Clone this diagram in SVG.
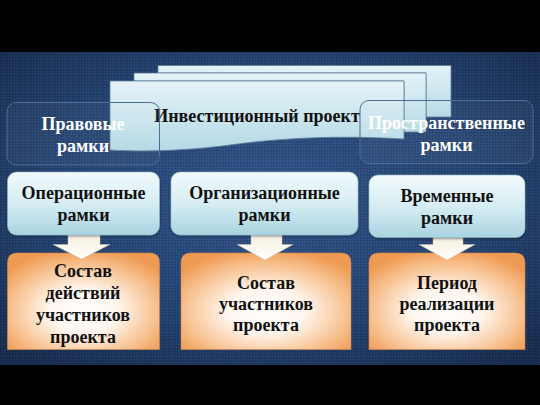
<svg xmlns="http://www.w3.org/2000/svg" width="540" height="405" viewBox="0 0 540 405">
<defs>
<radialGradient id="bg" cx="50%" cy="45%" r="70%">
<stop offset="0" stop-color="#32568c"/>
<stop offset="0.6" stop-color="#244372"/>
<stop offset="1" stop-color="#172d50"/>
</radialGradient>
<pattern id="dots" width="3" height="3" patternUnits="userSpaceOnUse">
<rect x="0" y="0" width="1.5" height="1.5" fill="#000" opacity="0.15"/>
<rect x="1.5" y="1.5" width="1.5" height="1.5" fill="#fff" opacity="0.04"/>
</pattern>
<linearGradient id="doc" x1="0" y1="0" x2="0" y2="1">
<stop offset="0" stop-color="#e4f3f8"/>
<stop offset="1" stop-color="#b4d9e5"/>
</linearGradient>
<linearGradient id="blue" x1="0" y1="0" x2="0" y2="1">
<stop offset="0" stop-color="#f2fafc"/>
<stop offset="0.5" stop-color="#d6edf3"/>
<stop offset="1" stop-color="#a9d3e0"/>
</linearGradient>
<radialGradient id="orange" cx="50%" cy="60%" r="65%">
<stop offset="0" stop-color="#ffffff"/>
<stop offset="0.35" stop-color="#fff6ee"/>
<stop offset="0.75" stop-color="#f7bf8c"/>
<stop offset="1" stop-color="#ef9a52"/>
</radialGradient>
<linearGradient id="arrow" x1="0" y1="0" x2="0" y2="1">
<stop offset="0" stop-color="#f4ecd8"/>
<stop offset="1" stop-color="#ffffff"/>
</linearGradient>
<filter id="sh" x="-10%" y="-10%" width="120%" height="130%">
<feDropShadow dx="0" dy="1" stdDeviation="1.2" flood-color="#000" flood-opacity="0.45"/>
</filter>
</defs>
<style>
.t{font-family:"Liberation Serif","DejaVu Serif","Times New Roman",serif;font-weight:700;font-size:18px;text-anchor:middle}
.dk{fill:#111}
.wh{fill:#ffffff}
.sheet{fill:url(#doc);stroke:#5f7c9c;stroke-width:0.8}
.frame{fill:#ffffff;fill-opacity:0.04;stroke:#4d6d94;stroke-width:1}
.bbox{fill:url(#blue);stroke:#8fb8c8;stroke-width:0.6}
.obox{fill:url(#orange);stroke:#d78a4c;stroke-width:0.6}
.arr{fill:url(#arrow);stroke:#c8c0aa;stroke-width:0.5}
</style>
<rect width="540" height="405" fill="#000"/>
<rect x="0" y="52" width="540" height="313" fill="url(#bg)"/>
<rect x="0" y="52" width="540" height="313" fill="url(#dots)"/>

<g id="doc-node">
<path class="sheet" d="M158,65.5 H451 V117 C440,117 430,117 426,117 V73 H158 Z"/>
<path class="sheet" d="M134,73 H426 V132 C418,132 410,132 404,132 V81 H134 Z"/>
<path class="sheet" d="M110,81 H404 V139 C340,135 280,138 230,145 C185,151 140,152 110,150 Z"/>
<text class="t dk" x="257" y="122">Инвестиционный проект</text>
</g>

<g id="legal">
<rect class="frame" x="7" y="102.5" width="152.5" height="62.5" rx="9"/>
<text class="t wh" x="83" y="130">Правовые</text>
<text class="t wh" x="83" y="151.5">рамки</text>
</g>
<g id="spatial">
<rect class="frame" x="360" y="100.5" width="173" height="63" rx="9"/>
<text class="t wh" x="446.5" y="129">Пространственные</text>
<text class="t wh" x="446.5" y="150.5">рамки</text>
</g>

<g id="orange-left">
<path class="obox" d="M7.5,349.5 V263 Q7.5,253 17.5,253 H149.5 Q159.5,253 159.5,263 V349.5 Z"/>
<text class="t dk" x="83" y="277">Состав</text>
<text class="t dk" x="83" y="299">действий</text>
<text class="t dk" x="83" y="321">участников</text>
<text class="t dk" x="83" y="343">проекта</text>
</g>
<g id="orange-mid">
<path class="obox" d="M181,349.5 V263 Q181,253 191,253 H341 Q351,253 351,263 V349.5 Z"/>
<text class="t dk" x="266" y="288.5">Состав</text>
<text class="t dk" x="266" y="310">участников</text>
<text class="t dk" x="266" y="331">проекта</text>
</g>
<g id="orange-right">
<path class="obox" d="M369,349.5 V263 Q369,253 379,253 H515 Q525,253 525,263 V349.5 Z"/>
<text class="t dk" x="447" y="288.5">Период</text>
<text class="t dk" x="447" y="310">реализации</text>
<text class="t dk" x="447" y="331">проекта</text>
</g>

<g id="connectors">
<path class="arr" d="M68,230 H100 V244.5 H110 L81.5,259 L53,244.5 H68 Z"/>
<path class="arr" d="M251,230 H282 V244.5 H293 L265,260 L237,244.5 H251 Z"/>
<path class="arr" d="M433,232 H463 V244.5 H475 L447,260 L419,244.5 H433 Z"/>
</g>

<g id="oper">
<rect class="bbox" x="7.5" y="172" width="152" height="63" rx="9" filter="url(#sh)"/>
<text class="t dk" x="83.5" y="199">Операционные</text>
<text class="t dk" x="83.5" y="221">рамки</text>
</g>
<g id="org">
<rect class="bbox" x="171" y="172" width="187" height="63" rx="9" filter="url(#sh)"/>
<text class="t dk" x="264.5" y="199">Организационные</text>
<text class="t dk" x="264.5" y="221">рамки</text>
</g>
<g id="time">
<rect class="bbox" x="369" y="175" width="156" height="62.5" rx="9" filter="url(#sh)"/>
<text class="t dk" x="447" y="202">Временные</text>
<text class="t dk" x="447" y="224">рамки</text>
</g>
</svg>
